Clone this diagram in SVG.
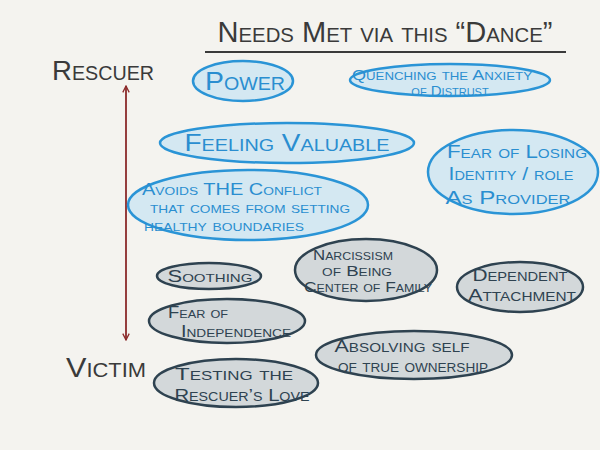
<svg xmlns="http://www.w3.org/2000/svg" width="600" height="450" viewBox="0 0 600 450">
<defs>
<marker id="ah" viewBox="0 0 10 10" refX="9" refY="5" markerWidth="8" markerHeight="8" markerUnits="userSpaceOnUse" orient="auto-start-reverse">
<path d="M1,1 L9,5 L1,9" fill="none" stroke="#8b2a2a" stroke-width="1.6"/>
</marker>
<style>
text{font-family:"Liberation Sans","DejaVu Sans",sans-serif;font-variant:small-caps;text-anchor:middle}
.hd{fill:#3a3a3a;font-size:30px}
.ax{fill:#3a3a3a;font-size:28px}
.b ellipse{fill:#d4e8f2;stroke:#2a94d6;stroke-width:2.5}
.b text{fill:#2a8ed0}
.g ellipse{fill:#d3d8da;stroke:#2e4250;stroke-width:2.5}
.g text{fill:#2e4250}
</style>
</defs>
<rect width="600" height="450" fill="#f4f3ef"/>
<g id="title">
<text class="hd" x="385" y="42" textLength="335" lengthAdjust="spacingAndGlyphs">Needs Met via this “Dance”</text>
<line x1="205" y1="52" x2="566" y2="52" stroke="#3a3a3a" stroke-width="2"/>
</g>
<g id="rescuer"><text class="ax" x="103" y="80" textLength="102" lengthAdjust="spacingAndGlyphs">Rescuer</text></g>
<g id="victim"><text class="ax" x="106" y="377" font-size="32" textLength="80" lengthAdjust="spacingAndGlyphs">Victim</text></g>
<g id="connectors">
<line x1="126" y1="86" x2="126" y2="340" stroke="#8b2a2a" stroke-width="1.8" marker-start="url(#ah)" marker-end="url(#ah)"/>
</g>
<g id="power" class="b"><ellipse cx="243" cy="81" rx="50" ry="20"/><text x="245" y="90" font-size="26" textLength="80" lengthAdjust="spacingAndGlyphs">Power</text></g>
<g id="quenching" class="b"><ellipse cx="450" cy="80" rx="100" ry="16"/>
<text x="442" y="80" font-size="15" textLength="180" lengthAdjust="spacingAndGlyphs">Quenching the Anxiety</text>
<text x="450" y="96" font-size="15">of Distrust</text></g>
<g id="valuable" class="b"><ellipse cx="287" cy="143" rx="127" ry="20"/><text x="287" y="151" font-size="24" textLength="205" lengthAdjust="spacingAndGlyphs">Feeling Valuable</text></g>
<g id="identity" class="b"><ellipse cx="513" cy="172" rx="85" ry="42"/>
<text x="517" y="158" font-size="19" textLength="140" lengthAdjust="spacingAndGlyphs">Fear of Losing</text>
<text x="511" y="180" font-size="19" textLength="125" lengthAdjust="spacingAndGlyphs">Identity / role</text>
<text x="508" y="204" font-size="19" textLength="125" lengthAdjust="spacingAndGlyphs">As Provider</text></g>
<g id="avoids" class="b"><ellipse cx="248" cy="205" rx="120" ry="35"/>
<text x="232" y="195" font-size="16" textLength="180" lengthAdjust="spacingAndGlyphs">Avoids THE Conflict</text>
<text x="250" y="213" font-size="16" textLength="200" lengthAdjust="spacingAndGlyphs">that comes from setting</text>
<text x="224" y="231" font-size="16" textLength="160" lengthAdjust="spacingAndGlyphs">healthy boundaries</text></g>
<g id="soothing" class="g"><ellipse cx="209" cy="276" rx="52" ry="13"/><text x="210" y="282" font-size="16" textLength="85" lengthAdjust="spacingAndGlyphs">Soothing</text></g>
<g id="narcissism" class="g"><ellipse cx="366" cy="270" rx="71" ry="31"/>
<text x="353" y="260" font-size="15" textLength="80" lengthAdjust="spacingAndGlyphs">Narcissism</text>
<text x="357" y="276" font-size="15" textLength="70" lengthAdjust="spacingAndGlyphs">of Being</text>
<text x="368" y="292" font-size="14" textLength="128" lengthAdjust="spacingAndGlyphs">Center of Family</text></g>
<g id="dependent" class="g"><ellipse cx="520" cy="287" rx="63" ry="25"/>
<text x="520" y="281" font-size="17" textLength="95" lengthAdjust="spacingAndGlyphs">Dependent</text>
<text x="522" y="301" font-size="17" textLength="108" lengthAdjust="spacingAndGlyphs">Attachment</text></g>
<g id="independence" class="g"><ellipse cx="227" cy="321" rx="78" ry="22"/>
<text x="198" y="318" font-size="16" textLength="60" lengthAdjust="spacingAndGlyphs">Fear of</text>
<text x="236" y="337" font-size="16" textLength="110" lengthAdjust="spacingAndGlyphs">Independence</text></g>
<g id="absolving" class="g"><ellipse cx="414" cy="355" rx="98" ry="24"/>
<text x="402" y="352" font-size="17" textLength="135" lengthAdjust="spacingAndGlyphs">Absolving self</text>
<text x="413" y="372" font-size="17" textLength="150" lengthAdjust="spacingAndGlyphs">of true ownership</text></g>
<g id="testing" class="g"><ellipse cx="236" cy="383" rx="82" ry="24"/>
<text x="234" y="380" font-size="17" textLength="118" lengthAdjust="spacingAndGlyphs">Testing the</text>
<text x="242" y="401" font-size="17" textLength="135" lengthAdjust="spacingAndGlyphs">Rescuer’s Love</text></g>
</svg>
